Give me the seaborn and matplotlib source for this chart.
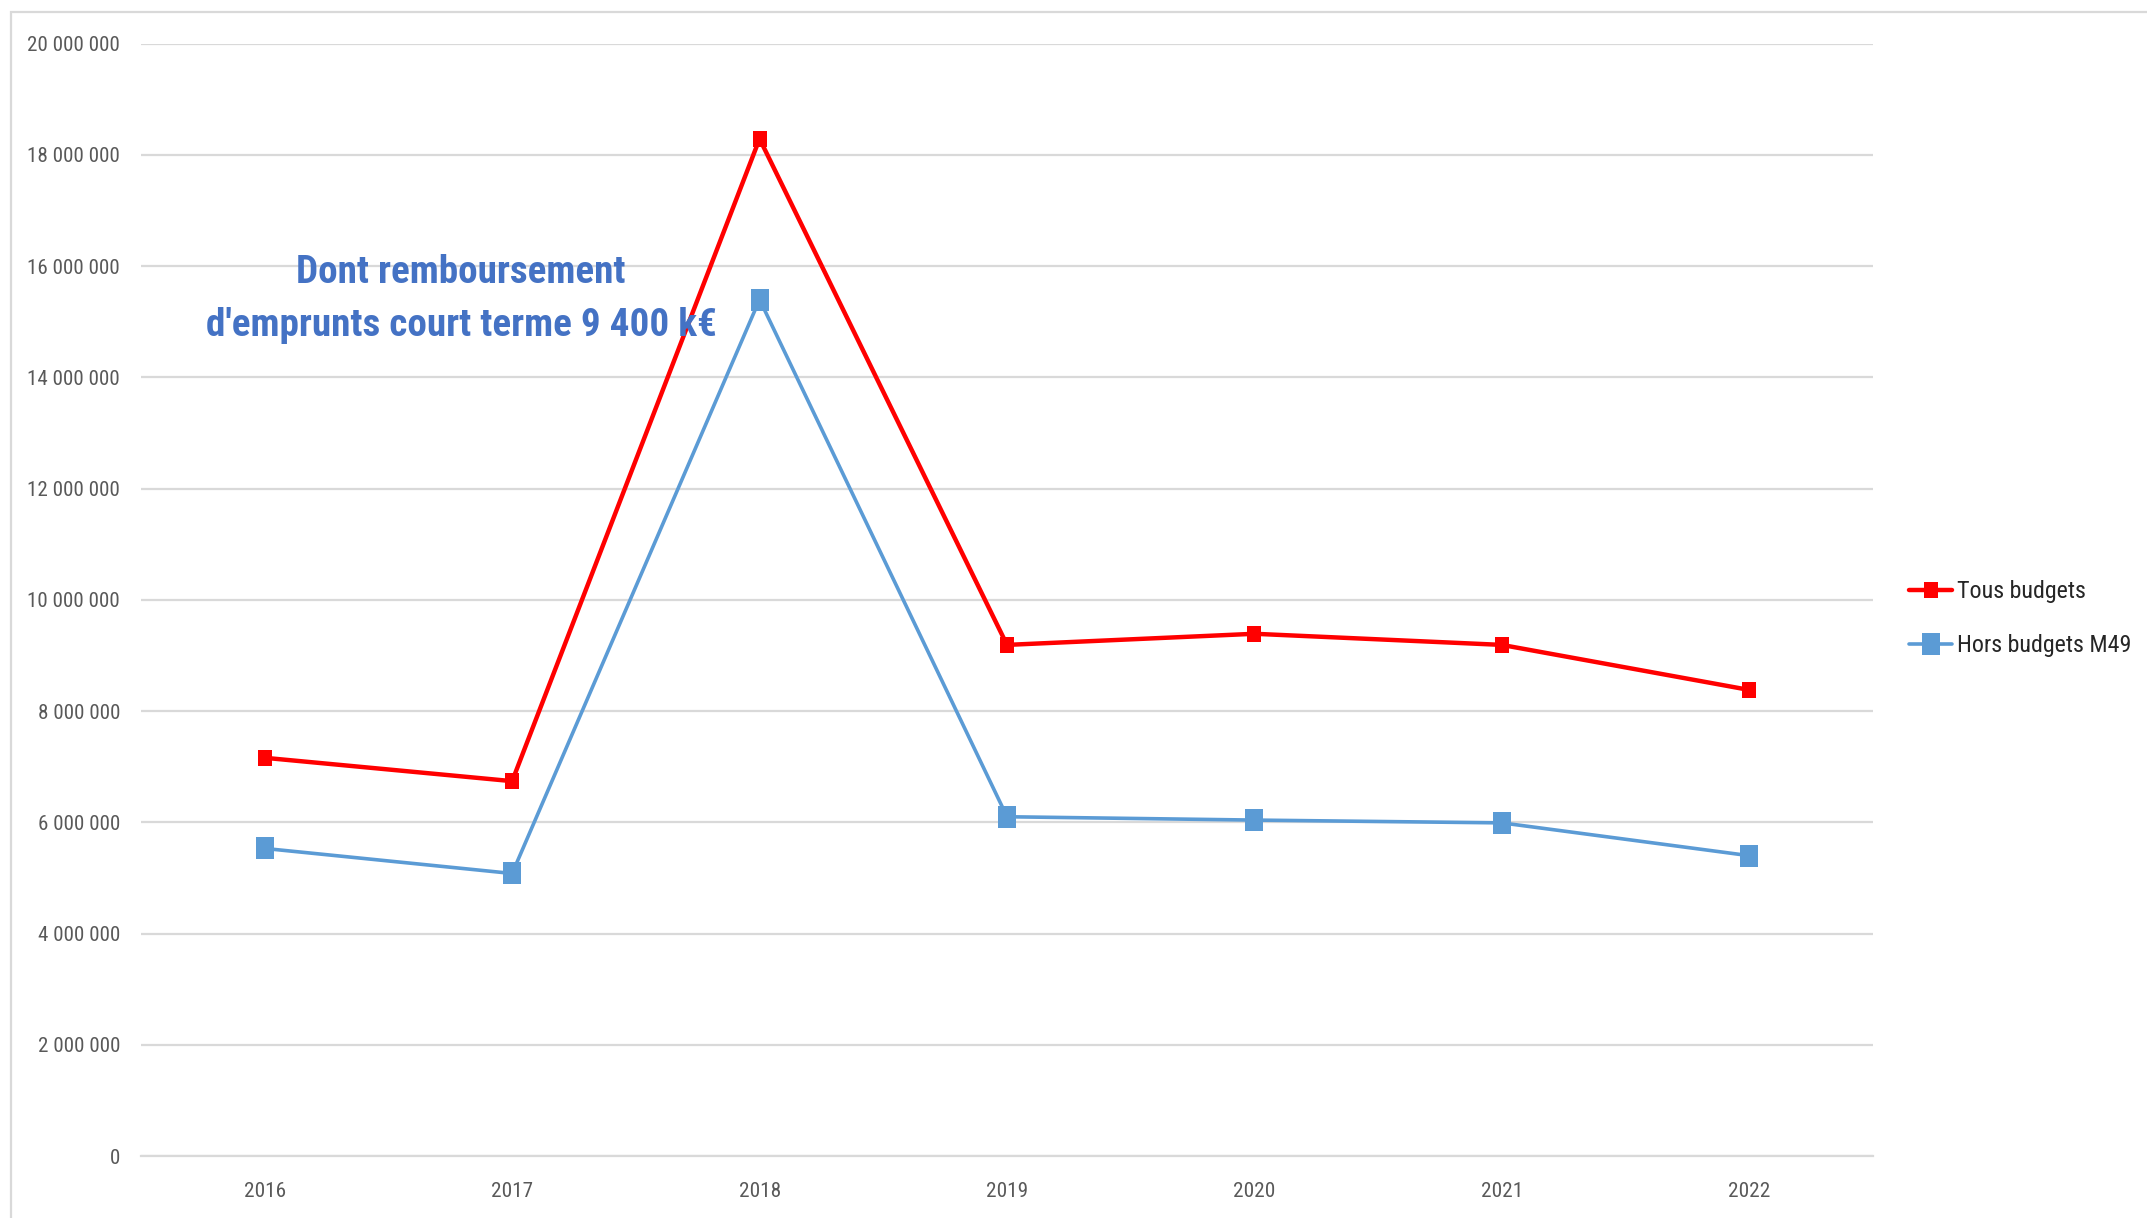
import os
import matplotlib
matplotlib.use("Agg")
import matplotlib.pyplot as plt
from matplotlib import font_manager
from matplotlib.font_manager import FontProperties
from matplotlib.patches import Rectangle
from matplotlib.ticker import FixedLocator
import seaborn as sns
import pandas as pd

# ---- data ----
years = ["2016", "2017", "2018", "2019", "2020", "2021", "2022"]
tous_budgets = [7160000, 6740000, 18290000, 9190000, 9390000, 9190000, 8380000]
hors_budgets_m49 = [5530000, 5080000, 15400000, 6100000, 6040000, 5990000, 5400000]
series_names = ["Tous budgets", "Hors budgets M49"]
y_ticks = [0, 2000000, 4000000, 6000000, 8000000, 10000000, 12000000,
           14000000, 16000000, 18000000, 20000000]
y_tick_labels = [f"{v:,}".replace(",", " ") for v in y_ticks]
annotation = "Dont remboursement\nd'emprunts court terme 9 400 k€"

sns.set_theme(style="white")
plt.rcParams["font.family"] = ["Liberation Sans", "DejaVu Sans"]


def find_condensed(weight):
    prefs = ["liberationsansnarrow", "robotocondensed", "opensanscondensed",
             "opensans_condensed", "notosanscondensed", "dejavusanscondensed"]
    best = None
    for e in font_manager.fontManager.ttflist:
        base = os.path.basename(e.fname).lower().replace("-", "").replace(" ", "")
        if e.style != "normal":
            continue
        if "narrow" not in base and "condensed" not in base:
            continue
        if "semi" in base or "extra" in base or "ultra" in base:
            continue
        w = e.weight if isinstance(e.weight, int) else (700 if "bold" in str(e.weight) else 400)
        if abs(w - weight) > 50:
            continue
        rank = next((i for i, p in enumerate(prefs) if base.startswith(p)), len(prefs))
        if best is None or rank < best[0]:
            best = (rank, e.fname)
    if best:
        return FontProperties(fname=best[1])
    return FontProperties(family=["Liberation Sans"], weight=weight)


fp_reg = find_condensed(400)
fp_bold = find_condensed(700)

W, H = 2147, 1218
fig = plt.figure(figsize=(W / 100, H / 100), dpi=100)
fig.patch.set_facecolor("white")
renderer = fig.canvas.get_renderer()


def fit(fp, text, target_px):
    p = fp.copy()
    p.set_size(20)
    t = fig.text(0, 0, text, fontproperties=p)
    w = t.get_window_extent(renderer).width
    t.remove()
    q = fp.copy()
    q.set_size(20 * target_px / w)
    return q


fp_y = fit(fp_reg, "20 000 000", 93)
fp_x = fit(fp_reg, "2016", 42)
fp_leg = fit(fp_reg, "Hors budgets M49", 174)
ann_lines = annotation.split("\n")
fp_ann = fit(fp_bold, ann_lines[1], 509)

# outer chart border (partially cropped)
fig.add_artist(Rectangle((11 / W, -0.2), 1.5, 1.2 - 12 / H, transform=fig.transFigure,
                         fill=False, edgecolor="#d9d9d9", linewidth=1.6, zorder=0))

x0, x1 = 141, 1873
y_top, y_bot = 43.7, 1156
ax = fig.add_axes([x0 / W, 1 - y_bot / H, (x1 - x0) / W, (y_bot - y_top) / H])
ax.set_facecolor("none")

df = pd.DataFrame({"year": years, "Tous budgets": tous_budgets,
                   "Hors budgets M49": hors_budgets_m49})

rect = [(-0.415, -0.5), (0.415, -0.5), (0.415, 0.5), (-0.415, 0.5), (-0.415, -0.5)]

sns.lineplot(data=df, x="year", y="Tous budgets", ax=ax, sort=False, color="#FF0000",
             linewidth=3.2, marker=rect, markersize=11.5, markeredgewidth=0,
             markerfacecolor="#FF0000", label=series_names[0], zorder=4)
sns.lineplot(data=df, x="year", y="Hors budgets M49", ax=ax, sort=False, color="#5B9BD5",
             linewidth=2.6, marker=rect, markersize=16, markeredgewidth=0,
             markerfacecolor="#5B9BD5", label=series_names[1], zorder=3)

ax.set_xlim(-0.5, len(years) - 0.5)
ax.set_ylim(0, 20000000)
ax.set_yticks(y_ticks)
ax.set_yticklabels(y_tick_labels, fontproperties=fp_y, color="#595959")
ax.set_xticks(range(len(years)))
ax.set_xticklabels(years, fontproperties=fp_x, color="#595959")
ax.grid(axis="y", color="#d9d9d9", linewidth=1.6)
ax.grid(axis="x", visible=False)
ax.set_axisbelow(True)
ax.set_xlabel("")
ax.set_ylabel("")

for s in ["top", "right", "left"]:
    ax.spines[s].set_visible(False)
ax.spines["bottom"].set_color("#d9d9d9")
ax.spines["bottom"].set_linewidth(1.6)

ax.tick_params(axis="y", length=0, pad=15)
ax.tick_params(axis="x", which="major", length=0, pad=19)
ax.xaxis.set_minor_locator(FixedLocator([i - 0.5 for i in range(len(years) + 1)]))
ax.tick_params(axis="x", which="minor", length=6, width=1.6, color="#d9d9d9", direction="out")

# annotation, two centred lines at the reference baselines
for line, base_px in zip(ann_lines, [283, 336]):
    fig.text(461 / W, 1 - base_px / H, line, ha="center", va="baseline",
             fontproperties=fp_ann, color="#4472C4", zorder=1)

handles, labels = ax.get_legend_handles_labels()
if ax.get_legend():
    ax.get_legend().remove()
fig.legend(handles, labels, loc="center left", bbox_to_anchor=(1909 / W, 1 - 618.5 / H),
           frameon=False, prop=fp_leg, handlelength=1.8, handletextpad=0.2,
           labelspacing=1.3, borderpad=0, borderaxespad=0)

fig.savefig("out.png", dpi=100, facecolor="white")
